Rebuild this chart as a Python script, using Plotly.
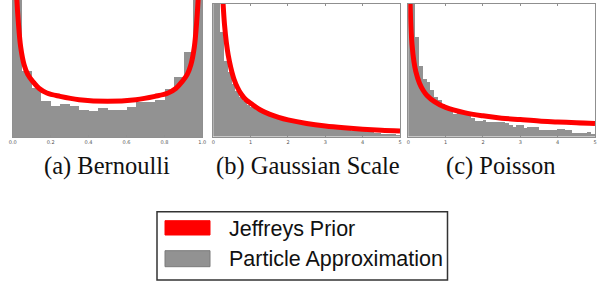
import plotly.graph_objects as go

W, H = 601, 286

# ---------------- data ----------------
# (a) Bernoulli: histogram (bin width 0.05) and Jeffreys prior curve
bern_hist = [3.5, 1.18, 0.88, 0.64, 0.56, 0.59, 0.56, 0.49, 0.47, 0.52,
             0.49, 0.49, 0.53, 0.62, 0.62, 0.67, 0.86, 1.08, 1.53, 3.5]
bern_curve_x = [0.006, 0.012, 0.02, 0.03, 0.042, 0.06, 0.08, 0.11, 0.14, 0.18, 0.25, 0.35, 0.5,
                0.65, 0.75, 0.82, 0.86, 0.89, 0.92, 0.94, 0.958, 0.97, 0.98, 0.988, 0.994]
bern_curve_y = [4.6, 3.4, 2.6, 2.05, 1.62, 1.3, 1.12, 0.98, 0.87, 0.79, 0.73, 0.67, 0.64,
                0.67, 0.73, 0.79, 0.87, 0.98, 1.12, 1.3, 1.62, 2.05, 2.6, 3.4, 4.6]

# (b) Gaussian scale: histogram (bin width 0.1) and Jeffreys prior curve
gauss_hist = [5.0, 5.0, 2.9, 2.1, 1.8, 1.45, 1.25, 1.1, 0.98, 0.88,
              0.82, 0.76, 0.72, 0.74, 0.70, 0.60, 0.55, 0.58, 0.50, 0.47,
              0.44, 0.42, 0.42, 0.43, 0.43, 0.37, 0.33, 0.31, 0.29, 0.27,
              0.24, 0.23, 0.21, 0.20, 0.19, 0.18, 0.17, 0.16, 0.15, 0.15,
              0.14, 0.12, 0.12, 0.11, 0.10, 0.08, 0.07, 0.08, 0.07, 0.05]
gauss_curve_x = [0.2, 0.25, 0.3, 0.35, 0.4, 0.47, 0.55, 0.65, 0.75, 0.87, 1.0, 1.25, 1.5,
                 1.75, 2.0, 2.5, 3.0, 3.5, 4.0, 4.5, 5.0]
gauss_curve_y = [5.0, 3.9, 3.1, 2.6, 2.25, 1.9, 1.6, 1.35, 1.17, 1.02, 0.92, 0.74, 0.62,
                 0.53, 0.46, 0.36, 0.29, 0.24, 0.20, 0.17, 0.15]

# (c) Poisson: histogram (bin width 0.1) and Jeffreys prior curve
pois_hist = [6.0, 6.0, 3.4, 2.43, 1.99, 1.87, 1.59, 1.36, 1.24, 1.13,
             1.01, 1.01, 0.78, 0.84, 0.78, 0.76, 0.75, 0.64, 0.52, 0.52,
             0.55, 0.49, 0.49, 0.49, 0.49, 0.49, 0.47, 0.38, 0.34, 0.38,
             0.38, 0.30, 0.34, 0.32, 0.34, 0.21, 0.21, 0.21, 0.23, 0.23,
             0.26, 0.26, 0.21, 0.21, 0.13, 0.13, 0.13, 0.11, 0.15, 0.07]
pois_curve_x = [0.04, 0.05, 0.07, 0.1, 0.15, 0.2, 0.3, 0.4, 0.5, 0.7, 1.0, 1.5, 2.0,
                2.5, 3.0, 3.5, 4.0, 4.5, 5.0]
pois_curve_y = [5.0, 4.47, 3.78, 3.16, 2.58, 2.24, 1.83, 1.58, 1.41, 1.2, 1.0, 0.82, 0.71,
                0.63, 0.58, 0.53, 0.5, 0.47, 0.45]

captions = ["(a) Bernoulli", "(b) Gaussian Scale", "(c) Poisson"]
legend_labels = ["Jeffreys Prior", "Particle Approximation"]
bern_ticks = [0.0, 0.2, 0.4, 0.6, 0.8, 1.0]
bern_ticktext = ["0.0", "0.2", "0.4", "0.6", "0.8", "1.0"]
five_ticks = [0, 1, 2, 3, 4, 5]
five_ticktext = ["0", "1", "2", "3", "4", "5"]

# ---------------- styling ----------------
RED = "#ff0000"
GREY = "#929292"
FRAME = "#8f8f8f"


def px_x(p):
    return p / W


def px_y(p):
    return 1 - p / H


fig = go.Figure()

panels = [
    dict(hist=bern_hist, x0=0.025, dx=0.05, cx=bern_curve_x, cy=bern_curve_y,
         xr=[0, 1], yr=[0, 2.46], dom=[12.7, 202.3], top=0.0, bottom=137.0,
         ticks=bern_ticks, ticktext=bern_ticktext, toplines=False),
    dict(hist=gauss_hist, x0=0.05, dx=0.1, cx=gauss_curve_x, cy=gauss_curve_y,
         xr=[0, 5], yr=[0, 3.67], dom=[213.3, 400.0], top=4.0, bottom=136.5,
         ticks=five_ticks, ticktext=five_ticktext, toplines=True),
    dict(hist=pois_hist, x0=0.05, dx=0.1, cx=pois_curve_x, cy=pois_curve_y,
         xr=[0, 5], yr=[0, 4.55], dom=[408.3, 595.0], top=4.0, bottom=136.5,
         ticks=five_ticks, ticktext=five_ticktext, toplines=True),
]

for i, p in enumerate(panels, start=1):
    xa = "x" if i == 1 else f"x{i}"
    ya = "y" if i == 1 else f"y{i}"
    fig.add_trace(go.Bar(x0=p["x0"], dx=p["dx"], y=p["hist"], width=p["dx"],
                         marker=dict(color=GREY, line=dict(width=0)),
                         xaxis=xa, yaxis=ya, showlegend=False))
    fig.add_trace(go.Scatter(x=p["cx"], y=p["cy"], mode="lines",
                             line=dict(color=RED, width=5, shape="spline"),
                             xaxis=xa, yaxis=ya, showlegend=False))
    xkey = "xaxis" if i == 1 else f"xaxis{i}"
    ykey = "yaxis" if i == 1 else f"yaxis{i}"
    fig.layout[xkey] = dict(domain=[px_x(p["dom"][0]), px_x(p["dom"][1])],
                            range=p["xr"], anchor=ya, showgrid=False, zeroline=False,
                            showline=True, linecolor=FRAME, linewidth=1,
                            mirror="ticks" if p["toplines"] else False,
                            ticks="inside", ticklen=2, tickcolor=FRAME,
                            tickvals=p["ticks"], ticktext=p["ticktext"],
                            tickfont=dict(size=5, family="DejaVu Sans", color="#555"),
                            ticklabelstandoff=0, automargin=False, fixedrange=True)
    fig.layout[ykey] = dict(domain=[px_y(p["bottom"]), px_y(p["top"])],
                            range=p["yr"], anchor=xa, showgrid=False, zeroline=False,
                            showline=True, linecolor=FRAME, linewidth=1, mirror=True,
                            showticklabels=False, ticks="", automargin=False,
                            fixedrange=True)

# captions
cap_x = [106.5, 307.5, 501.0]
for cx, txt in zip(cap_x, captions):
    fig.add_annotation(x=px_x(cx), y=px_y(166), xref="paper", yref="paper",
                       text=txt, showarrow=False, xanchor="center", yanchor="middle",
                       font=dict(family="Liberation Serif", size=24.5, color="#111"))

# legend box (drawn by hand to match the original's layout)
shapes = [
    dict(type="rect", xref="paper", yref="paper",
         x0=px_x(157), x1=px_x(447.5), y0=px_y(280), y1=px_y(211.7),
         line=dict(color="#333", width=1.5), fillcolor="white"),
    dict(type="rect", xref="paper", yref="paper",
         x0=px_x(165), x1=px_x(210), y0=px_y(235), y1=px_y(220.7),
         line=dict(color=RED, width=1), fillcolor=RED),
    dict(type="rect", xref="paper", yref="paper",
         x0=px_x(165), x1=px_x(210), y0=px_y(266.7), y1=px_y(250.7),
         line=dict(color="#7a7a7a", width=1), fillcolor=GREY),
]
fig.update_layout(shapes=shapes)
for ty, txt in zip([228.5, 259.0], legend_labels):
    fig.add_annotation(x=px_x(226.5), y=px_y(ty), xref="paper", yref="paper",
                       text=txt, showarrow=False, xanchor="left", yanchor="middle",
                       font=dict(family="Liberation Sans", size=21.5, color="#111"))

fig.update_layout(width=W, height=H, margin=dict(l=0, r=0, t=0, b=0, pad=0, autoexpand=False),
                  paper_bgcolor="white", plot_bgcolor="white", bargap=0,
                  showlegend=False)

fig.write_html("out.html", config={"displayModeBar": False},
               post_script="document.body.style.margin='0';document.body.style.padding='0';")
